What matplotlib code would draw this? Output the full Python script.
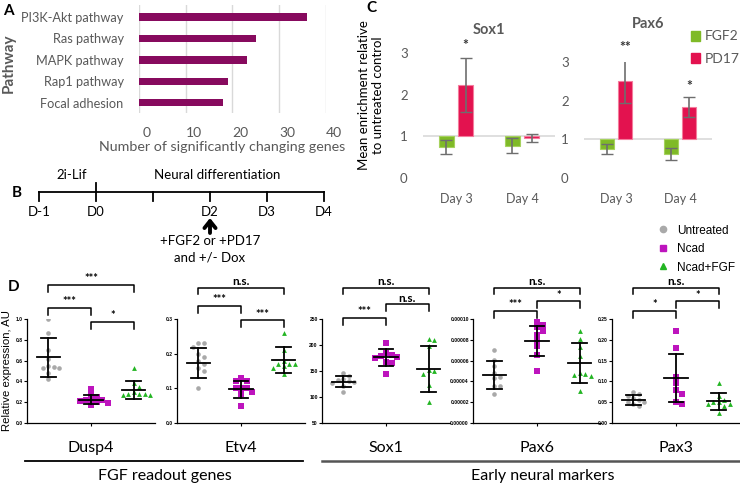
import matplotlib.pyplot as plt
import matplotlib.transforms as mtransforms
import numpy as np
from matplotlib.lines import Line2D
from matplotlib.patches import Patch
from matplotlib.ticker import FormatStrFormatter

plt.rcParams["font.family"] = ["Lato", "DejaVu Sans"]

# ---- data ----
# Panel A
pathways = ["PI3K-Akt pathway", "Ras pathway", "MAPK pathway", "Rap1 pathway", "Focal adhesion"]
n_genes = [36, 25, 23, 19, 18]

# Panel B
timeline_days = ["D-1", "D0", "", "D2", "D3", "D4"]

# Panel C (mean enrichment relative to untreated, +/- error)
c_days = ["Day 3", "Day 4"]
sox1_fgf2 = [0.75, 0.77]
sox1_fgf2_err = [0.17, 0.18]
sox1_pd17 = [2.23, 0.96]
sox1_pd17_err = [0.65, 0.09]
sox1_stars = ["*", ""]
pax6_fgf2 = [0.75, 0.62]
pax6_fgf2_err = [0.13, 0.16]
pax6_pd17 = [2.52, 1.84]
pax6_pd17_err = [0.57, 0.25]
pax6_stars = ["**", "*"]

# Panel D (individual points: untreated, Ncad, Ncad+FGF)
groups = ["Untreated", "Ncad", "Ncad+FGF"]
genes = ["Dusp4", "Etv4", "Sox1", "Pax6", "Pax3"]
dusp4 = [[1.0, 0.87, 0.70, 0.62, 0.55, 0.54, 0.53, 0.53, 0.48, 0.42],
         [0.33, 0.28, 0.25, 0.23, 0.22, 0.22, 0.21, 0.20, 0.19, 0.17],
         [0.53, 0.38, 0.35, 0.30, 0.28, 0.28, 0.28, 0.27, 0.27]]
etv4 = [[0.23, 0.23, 0.22, 0.20, 0.19, 0.18, 0.17, 0.16, 0.15, 0.10],
        [0.13, 0.12, 0.12, 0.10, 0.10, 0.10, 0.09, 0.085, 0.05],
        [0.26, 0.21, 0.18, 0.17, 0.17, 0.17, 0.165, 0.16, 0.14]]
sox1 = [[147, 140, 135, 132, 130, 128, 126, 122, 110],
        [204, 184, 180, 178, 176, 175, 168, 165, 144],
        [211, 210, 198, 152, 150, 145, 123, 90]]
pax6 = [[7.0e-5, 6.1e-5, 5.5e-5, 4.8e-5, 4.4e-5, 4.3e-5, 3.6e-5, 3.6e-5, 2.8e-5],
        [9.7e-5, 9.4e-5, 9.2e-5, 8.8e-5, 8.5e-5, 8.0e-5, 7.4e-5, 6.5e-5, 5.0e-5],
        [8.8e-5, 8.1e-5, 7.3e-5, 6.4e-5, 4.8e-5, 4.7e-5, 4.6e-5, 4.5e-5, 3.1e-5]]
pax3 = [[0.075, 0.07, 0.065, 0.06, 0.055, 0.05, 0.05, 0.045, 0.04],
        [0.22, 0.18, 0.11, 0.095, 0.08, 0.07, 0.05, 0.045],
        [0.095, 0.065, 0.055, 0.05, 0.05, 0.045, 0.045, 0.04, 0.025]]
d_means = [[0.63, 0.225, 0.32], [0.174, 0.097, 0.181], [129, 176, 154],
           [4.63e-5, 7.88e-5, 5.79e-5], [0.056, 0.108, 0.052]]
d_sds = [[0.19, 0.045, 0.088], [0.043, 0.025, 0.037], [10.5, 15.5, 45],
         [1.35e-5, 1.45e-5, 1.93e-5], [0.0125, 0.058, 0.0205]]
d_ylims = [(0, 1.0), (0, 0.3), (50, 250), (0, 0.0001), (0, 0.25)]
d_steps = [0.2, 0.1, 50, 0.00002, 0.05]
d_fmts = ["%.1f", "%.1f", "%d", "%.5f", "%.2f"]
# significance: (untreated vs Ncad, Ncad vs Ncad+FGF, untreated vs Ncad+FGF)
d_sig = [("***", "*", "***"), ("***", "***", "n.s."), ("***", "n.s.", "n.s."),
         ("***", "*", "n.s."), ("*", "*", "n.s.")]

# ---- layout helpers ----
W, H = 740, 484
fig = plt.figure(figsize=(W / 100, H / 100), dpi=100)


def px_axes(left, top, width, height):
    return fig.add_axes([left / W, 1 - (top + height) / H, width / W, height / H])


def ftext(x, y, s, **kw):
    fig.text(x / W, 1 - y / H, s, **kw)


grey_txt = "#595959"

# ---- Panel A ----
axa = px_axes(139, 5, 187, 108)
ya = np.arange(len(pathways))
axa.barh(ya, n_genes, height=0.33, color="#870A5E")
axa.set_xlim(0, 40)
axa.set_ylim(4.47, -0.56)
axa.set_xticks(range(0, 41, 10))
axa.set_yticks(ya, pathways)
axa.grid(axis="x", color="#D9D9D9", lw=1)
axa.set_axisbelow(True)
for s in axa.spines.values():
    s.set_visible(False)
axa.tick_params(length=0, labelsize=9.2, colors=grey_txt, pad=11)
axa.tick_params(axis="x", labelsize=10, pad=10)
shift = mtransforms.ScaledTranslation(8 / 100, 0, fig.dpi_scale_trans)
for lbl in axa.get_xticklabels():
    lbl.set_transform(lbl.get_transform() + shift)
axa.set_xlabel("Number of significantly changing genes", fontsize=10.3, color=grey_txt)
axa.xaxis.set_label_coords(0.447, -0.26)
axa.set_ylabel("Pathway", fontsize=11, fontweight="bold", color=grey_txt)
axa.yaxis.set_label_coords(-0.66, 0.46)
ftext(3, 11, "A", fontsize=11, fontweight="bold", va="center")

# ---- Panel B ----
axb = px_axes(39, 165, 285, 100)
axb.set_xlim(0, 5)
axb.set_ylim(100, 0)
axb.axis("off")
axb.plot([0, 5], [27, 27], color="k", lw=1.3, clip_on=False)
for i, d in enumerate(timeline_days):
    top = 18 if d == "D0" else 27
    axb.plot([i, i], [top, 36], color="k", lw=1.3, clip_on=False)
    axb.text(i, 47, d, ha="center", va="center", fontsize=9.5)
axb.text(0.58, 10, "2i-Lif", ha="center", va="center", fontsize=9.5)
axb.text(3.12, 10, "Neural differentiation", ha="center", va="center", fontsize=9.5)
axb.annotate("", xy=(3, 53), xytext=(3, 68),
             arrowprops=dict(arrowstyle="->,head_length=0.5,head_width=0.4", lw=2.8, color="k",
                             shrinkA=0, shrinkB=0))
axb.text(3, 76, "+FGF2 or +PD17", ha="center", va="center", fontsize=9.5)
axb.text(3, 93, "and +/- Dox", ha="center", va="center", fontsize=9.5)
ftext(12, 193, "B", fontsize=11, fontweight="bold", va="center")

# ---- Panel C ----
fgf2_col, pd17_col = "#7FBA27", "#E3124F"
err_col = "#6E6E6E"


def panel_c(ax, fgf2, fgf2_err, pd17, pd17_err, stars, title, title_y, star_pad):
    xc = np.arange(len(c_days))
    ax.bar(xc - 0.145, np.array(fgf2) - 1, bottom=1, width=0.22, color=fgf2_col,
           edgecolor="#A6D25E", lw=0.8, label="FGF2")
    ax.bar(xc + 0.145, np.array(pd17) - 1, bottom=1, width=0.22, color=pd17_col,
           edgecolor="#F47C9C", lw=0.8, label="PD17")
    ax.errorbar(xc - 0.145, fgf2, yerr=fgf2_err, fmt="none", ecolor=err_col, capsize=4, lw=1.2)
    ax.errorbar(xc + 0.145, pd17, yerr=pd17_err, fmt="none", ecolor=err_col, capsize=4, lw=1.2)
    ax.axhline(1, color="#D9D9D9", lw=1.2, zorder=0)
    for i, s in enumerate(stars):
        if s:
            ax.text(xc[i] + 0.145, pd17[i] + pd17_err[i] + star_pad, s, ha="center", va="center",
                    fontsize=10, fontweight="bold", color="#333333")
    ax.set_xlim(-0.5, 1.5)
    ax.set_ylim(0, 3)
    ax.set_yticks([0, 1, 2, 3])
    ax.set_xticks(xc, c_days)
    for s in ax.spines.values():
        s.set_visible(False)
    ax.tick_params(length=0, colors=grey_txt, labelsize=9.5)
    ax.tick_params(axis="x", labelsize=9, pad=11)
    ax.tick_params(axis="y", pad=11)
    ax.text(0.5, title_y, title, transform=ax.get_xaxis_transform(), ha="center", va="center",
            fontsize=10.5, fontweight="bold", color=grey_txt)


axc1 = px_axes(423, 53, 132, 125)
panel_c(axc1, sox1_fgf2, sox1_fgf2_err, sox1_pd17, sox1_pd17_err, sox1_stars, "Sox1", 1.18, 0.3)
axc2 = px_axes(584, 62, 128, 116)
panel_c(axc2, pax6_fgf2, pax6_fgf2_err, pax6_pd17, pax6_pd17_err, pax6_stars, "Pax6", 1.33, 0.3)
fig.legend(handles=[Patch(color=fgf2_col, label="FGF2"), Patch(color=pd17_col, label="PD17")],
           loc="upper left", bbox_to_anchor=(678 / W, 1 - 18 / H), frameon=False, fontsize=10,
           handlelength=0.7, handleheight=0.7, handletextpad=0.3, labelspacing=0.75,
           labelcolor=grey_txt)
ftext(371, 95, "Mean enrichment relative\nto untreated control", rotation=90, ha="center",
      va="center", fontsize=9.5, linespacing=1.15)
ftext(366, 8, "C", fontsize=11, fontweight="bold", va="center")

# ---- Panel D ----
pt_cols = ["#A9A9A9", "#BD14BD", "#23B523"]
pt_marks = ["o", "s", "^"]
pt_sizes = [11, 13, 12]
d_data = [dusp4, etv4, sox1, pax6, pax3]
d_lefts = [27, 177, 322, 473, 612]
bracket_y = [(1.106, 0.971, 1.327), (1.125, 0.99, 1.30), (1.01, 1.144, 1.30),
             (1.077, 1.17, 1.30), (1.077, 1.17, 1.30)]
ax_w, ax_h = 128, 104


def swarm_x(vals, y_px_per_unit, x_px_per_unit, d=5.0):
    # simple beeswarm: nearest free horizontal slot, in pixel space
    vals = np.asarray(vals, dtype=float)
    xs = np.zeros(len(vals))
    placed = []
    cands = [0.0]
    for j in range(1, 8):
        cands += [j * d * 0.55, -j * d * 0.55]
    for i in np.argsort(vals)[::-1]:
        y = vals[i] * y_px_per_unit
        for off in cands:
            if all(np.hypot(off - px, y - py) >= d for px, py in placed):
                break
        placed.append((off, y))
        xs[i] = off / x_px_per_unit
    return xs


def bracket(ax, x0, x1, y, label, leg=0.064):
    tr = ax.get_xaxis_transform()
    ax.plot([x0, x0, x1, x1], [y - leg, y, y, y - leg], transform=tr, color="k", lw=1.1,
            clip_on=False)
    ax.text((x0 + x1) / 2, y + 0.005, label, transform=tr, ha="center", va="bottom",
            fontsize=8 if label != "n.s." else 8.5, fontweight="bold")


for k, gene in enumerate(genes):
    ax = px_axes(d_lefts[k], 319, ax_w, ax_h)
    lo, hi = d_ylims[k]
    for g in range(3):
        vals = d_data[k][g]
        xs = g + swarm_x(vals, ax_h / (hi - lo), ax_w / 3)
        ax.scatter(xs, vals, s=pt_sizes[g], marker=pt_marks[g], color=pt_cols[g], lw=0, zorder=2)
        m, sd = d_means[k][g], d_sds[k][g]
        ax.plot([g - 0.27, g + 0.27], [m, m], color="k", lw=1.3, zorder=3)
        ax.plot([g, g], [m - sd, m + sd], color="k", lw=1.3, zorder=3)
        for yv in (m - sd, m + sd):
            ax.plot([g - 0.17, g + 0.17], [yv, yv], color="k", lw=1.3, zorder=3)
    ax.set_xlim(-0.5, 2.5)
    ax.set_ylim(lo, hi)
    ax.set_yticks(np.arange(lo, hi + d_steps[k] / 2, d_steps[k]))
    ax.yaxis.set_major_formatter(FormatStrFormatter(d_fmts[k]))
    ax.set_xticks([1], [gene])
    for s in ("top", "right"):
        ax.spines[s].set_visible(False)
    for s in ("left", "bottom"):
        ax.spines[s].set_linewidth(0.9)
    ax.tick_params(axis="y", labelsize=3.6, length=2, width=0.8, pad=1)
    for lbl in ax.get_yticklabels():
        lbl.set_fontweight("bold")
        lbl.set_fontfamily(["Liberation Sans", "DejaVu Sans"])
    ax.tick_params(axis="x", labelsize=11.5, length=2, width=0.8, pad=11)
    gm, mg, top = bracket_y[k]
    bracket(ax, 0, 1, gm, d_sig[k][0])
    bracket(ax, 1, 2, mg, d_sig[k][1])
    bracket(ax, 0, 2, top, d_sig[k][2])
    if k == 0:
        ax.set_ylabel("Relative expression, AU", fontsize=8.2,
                      family=["Liberation Sans", "DejaVu Sans"])
        ax.yaxis.set_label_coords(-0.115, 0.5)

# gene group underlines
fig.add_artist(Line2D([25 / W, 303 / W], [1 - 461 / H] * 2, color="k", lw=1.3))
fig.add_artist(Line2D([322 / W, 739 / W], [1 - 461 / H] * 2, color="#555555", lw=1.8))
ftext(165, 476, "FGF readout genes", ha="center", va="center", fontsize=11.5)
ftext(543, 476, "Early neural markers", ha="center", va="center", fontsize=11.5)
ftext(8, 287, "D", fontsize=11, fontweight="bold", va="center")

handles = [Line2D([], [], ls="none", marker=m, color=c, markersize=4.5, label=l)
           for m, c, l in zip(pt_marks, pt_cols, groups)]
fig.legend(handles=handles, loc="upper left", bbox_to_anchor=(645 / W, 1 - 214 / H), frameon=False,
           prop={"family": ["Liberation Sans", "DejaVu Sans"], "size": 8.5},
           handletextpad=0.6, labelspacing=0.55, handlelength=1.2)

fig.savefig("out.png", dpi=100)
